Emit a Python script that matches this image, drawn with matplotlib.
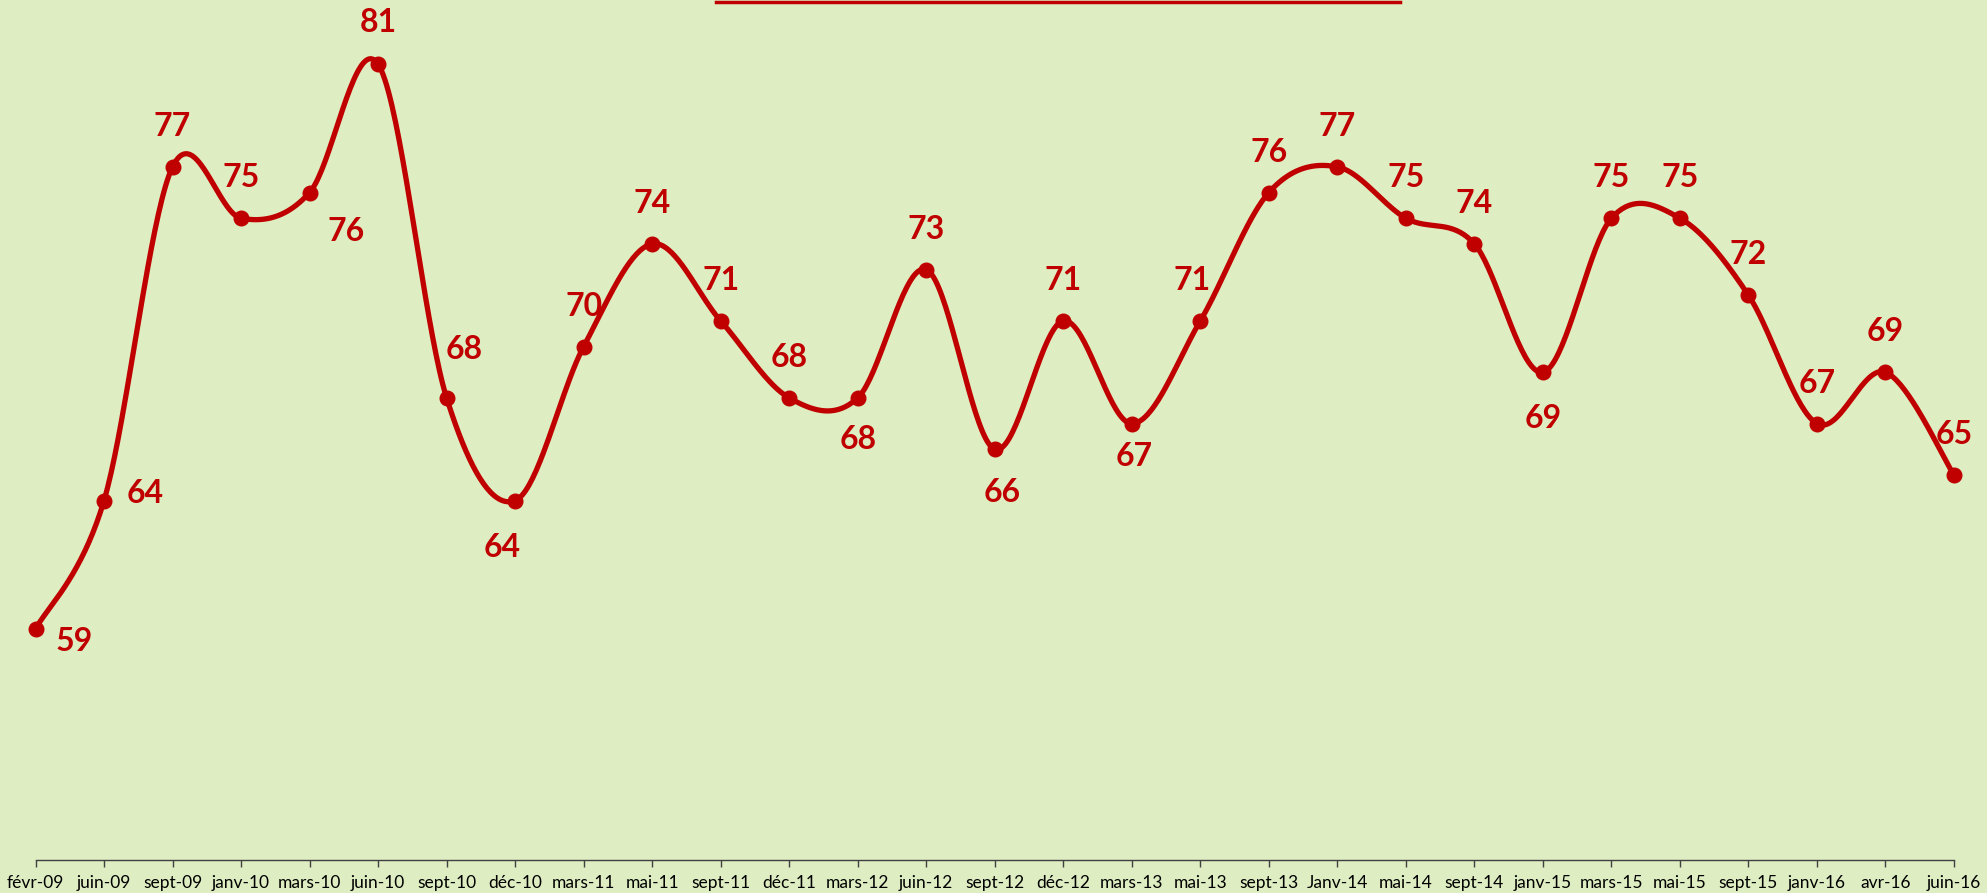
import numpy as np
import matplotlib
matplotlib.use("Agg")
import matplotlib.pyplot as plt
from matplotlib.lines import Line2D

categories = ["févr-09", "juin-09", "sept-09", "janv-10", "mars-10", "juin-10", "sept-10",
              "déc-10", "mars-11", "mai-11", "sept-11", "déc-11", "mars-12", "juin-12",
              "sept-12", "déc-12", "mars-13", "mai-13", "sept-13", "Janv-14", "mai-14",
              "sept-14", "janv-15", "mars-15", "mai-15", "sept-15", "janv-16", "avr-16",
              "juin-16"]
values = [59, 64, 77, 75, 76, 81, 68, 64, 70, 74, 71, 68, 68, 73, 66, 71, 67, 71,
          76, 77, 75, 74, 69, 75, 75, 72, 67, 69, 65]

# label offsets (points)
A = (0, 29)
offsets = [(28, -9), (30, 5), A, A, (26, -28), (0, 30), (13, 35), (-9, -34), A, A, A, A,
           (0, -30), A, (5, -31), A, (2, -24), (-6, 29), A, A, A, A, (0, -33), A, A, A,
           A, A, A]

RED = "#C00000"
BG = "#DEEDC2"

plt.rcParams['font.family'] = ['Lato', 'DejaVu Sans']

fig = plt.figure(figsize=(19.87, 8.93), dpi=100, facecolor=BG)
ax = fig.add_axes([35.5 / 1987, 33 / 893, (1954 - 35.5) / 1987, 1 - 33 / 893])
ax.set_facecolor(BG)

x = np.arange(len(values), dtype=float)
y = np.array(values, dtype=float)

# Catmull-Rom style smoothing (like Excel smoothed line)
xs, ys = [], []
n = len(x)
for i in range(n - 1):
    p0 = np.array([x[max(i - 1, 0)], y[max(i - 1, 0)]])
    p1 = np.array([x[i], y[i]])
    p2 = np.array([x[i + 1], y[i + 1]])
    p3 = np.array([x[min(i + 2, n - 1)], y[min(i + 2, n - 1)]])
    c1 = p1 + (p2 - p0) / 6.0
    c2 = p2 - (p3 - p1) / 6.0
    t = np.linspace(0, 1, 40)[:, None]
    b = ((1 - t) ** 3) * p1 + 3 * ((1 - t) ** 2) * t * c1 + 3 * (1 - t) * t ** 2 * c2 + t ** 3 * p2
    xs.extend(b[:, 0]); ys.extend(b[:, 1])

ax.plot(xs, ys, color=RED, lw=3.8, solid_capstyle='round', zorder=2, clip_on=False)
ax.plot(x, y, 'o', color=RED, ms=10.5, zorder=3, clip_on=False)

for xi, yi, (dx, dy) in zip(x, values, offsets):
    ax.annotate(str(yi), (xi, yi), xytext=(dx, dy), textcoords='offset points',
                ha='center', va='center', fontsize=23, fontweight='bold', color=RED)

ax.set_xlim(0, n - 1)
ax.set_ylim(50, 83.5)
ax.set_yticks([])
for s in ['top', 'right', 'left']:
    ax.spines[s].set_visible(False)
ax.spines['bottom'].set_color('#404040')
ax.spines['bottom'].set_linewidth(1.0)
ax.set_xticks(x)
ax.set_xticklabels(categories, fontsize=12.5, color='black')
ax.tick_params(axis='x', length=5, width=1.0, color='#404040', pad=6)

# top red line (title box border)
fig.add_artist(Line2D([716 / 1987, 1400 / 1987], [1 - 1.5 / 893, 1 - 1.5 / 893],
                      transform=fig.transFigure, color=RED, lw=2.5))

fig.savefig("out.png", dpi=100, facecolor=BG)
